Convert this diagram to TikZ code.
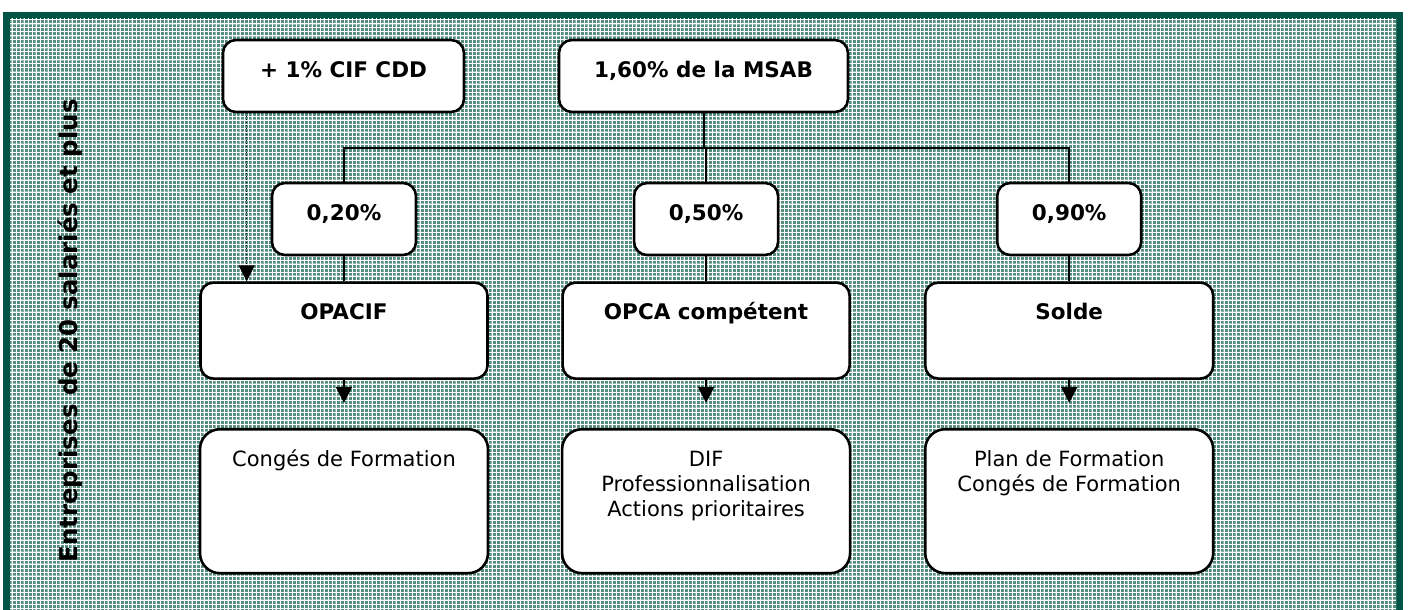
\documentclass[tikz,border=0pt]{standalone}
\usepackage{fontspec}
\setmainfont{DejaVu Sans}
\usetikzlibrary{arrows.meta}
\usetikzlibrary{positioning}
\usetikzlibrary{calc}

\definecolor{framegreen}{RGB}{0,84,70}
\definecolor{gridteal}{RGB}{84,140,126}

% box text: width, height, lines (set from the top)
\newcommand{\cell}[3]{\parbox[c][#2][t]{#1}{\centering\rule{0pt}{37pt}#3}}

\begin{document}
\begin{tikzpicture}[x=1pt,y=-1pt,
  box/.style={draw,fill=white,line width=2.6pt,rounded corners=13pt,inner sep=0pt,
    font=\fontsize{21.5}{25}\selectfont\bfseries},
  bigbox/.style={box,rounded corners=20pt,font=\fontsize{21}{25}\selectfont},
  link/.style={line width=2pt},
  arr/.style={line width=2pt,-{Triangle[width=16pt,length=16pt]}}]

  \useasboundingbox (0,0) rectangle (1410,610);
  % frame and textured background
  \fill[framegreen] (3,12) rectangle (1403,620);
  \fill[gridteal] (10,19) rectangle (1396,610);
  \begin{scope}
    \clip (10,19) rectangle (1396,610);
    \draw[white,line width=1pt,step=4pt] (8,612) grid (1398,17);
    \draw[white,opacity=0.35,line width=1.4pt,step=12pt] (8,612) grid (1398,17);
  \end{scope}

  \node[rotate=90,inner sep=0pt,font=\fontsize{24.5}{28}\selectfont\bfseries] (side) at (70.5,331)
    {Entreprises de 20 salariés et plus};

  % top row
  \node[box] (cdd) at (343.5,76) {\cell{241pt}{72pt}{+ 1\% CIF CDD}};
  \node[box] (msab) at (703.5,76) {\cell{289pt}{72pt}{1,60\% de la MSAB}};

  % shares
  \node[box] (p20) at (344,219) {\cell{144pt}{72pt}{0,20\%}};
  \node[box] (p50) [right=215.5pt of p20] {\cell{144pt}{72pt}{0,50\%}};
  \node[box] (p90) [right=216.5pt of p50] {\cell{144pt}{72pt}{0,90\%}};

  % collectors
  \node[box] (opacif) [below=25pt of p20] {\cell{287pt}{96pt}{OPACIF}};
  \node[box] (opca) [below=25pt of p50] {\cell{287pt}{96pt}{OPCA compétent}};
  \node[box] (solde) [below=25pt of p90] {\cell{288pt}{96pt}{Solde}};

  % uses
  \node[bigbox] (conges) [below=48pt of opacif] {\cell{288pt}{144pt}{Congés de Formation}};
  \node[bigbox] (dif) [below=48pt of opca]
    {\cell{288pt}{144pt}{DIF\\Professionnalisation\\Actions prioritaires}};
  \node[bigbox] (plan) [below=48pt of solde]
    {\cell{288pt}{144pt}{Plan de Formation\\Congés de Formation}};

  \coordinate (bus) at ($(msab.south)!0.5!(msab.south |- p50.north)$);
  \draw[link] (msab.south) -- (bus);
  \draw[link] (p20.north) |- (bus) -| (p90.north);
  \draw[link] (bus) -- (bus -| p50.north) -- (p50.north);
  \draw[link] (p20) -- (opacif);
  \draw[link] (p50) -- (opca);
  \draw[link] (p90) -- (solde);

  \draw[arr] (opacif.south) -- ($(opacif.south)!0.48!(conges.north)$);
  \draw[arr] (opca.south) -- ($(opca.south)!0.48!(dif.north)$);
  \draw[arr] (solde.south) -- ($(solde.south)!0.48!(plan.north)$);

  \draw[dotted,line width=1pt,-{Triangle[width=16pt,length=16pt]}]
    ([xshift=25pt]cdd.south west) -- ([xshift=25pt]cdd.south west |- opacif.north);
\end{tikzpicture}
\end{document}
